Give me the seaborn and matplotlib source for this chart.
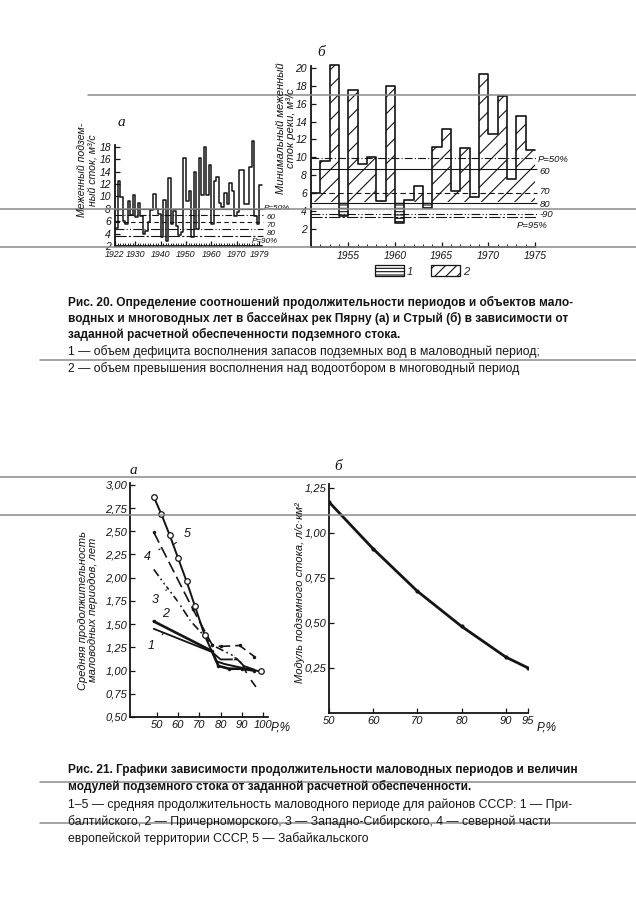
import numpy as np
import matplotlib
matplotlib.use("Agg")
import matplotlib.pyplot as plt
import matplotlib.transforms as mtransforms
from matplotlib.lines import Line2D
from matplotlib.patches import Patch
import seaborn as sns

# ------------------------------------------------------------------ #
# page size in pixels (dpi 100)
# ------------------------------------------------------------------ #
W, H = 636, 900

# ------------------------------------------------------------------ #
# DATA
# ------------------------------------------------------------------ #

# Рис. 20 а -- р. Пирну, меженный подземный сток, м3/с
PIRNU_YEARS = list(range(1922, 1980))
PIRNU_FLOW = [4.9, 12.5, 9.9, 6.0, 5.5, 9.2, 7.0, 10.3, 6.7, 9.0,
              6.8, 3.9, 4.5, 5.8, 7.8, 10.4, 8.0, 7.2, 3.5, 9.5,
              2.8, 13.0, 5.5, 7.7, 5.2, 3.8, 4.3, 16.2, 9.3, 10.8,
              3.5, 14.0, 4.7, 16.2, 10.3, 18.0, 10.3, 15.0, 5.5, 12.5,
              13.2, 9.0, 8.3, 10.5, 8.8, 12.2, 10.8, 6.8, 7.5, 14.3,
              14.3, 8.7, 8.7, 14.8, 19.0, 6.8, 5.5, 11.8]
PIRNU_LEVELS = [8.0, 7.0, 5.9, 4.7, 3.6]
PIRNU_LEVEL_LABELS = ["P=50%", "60", "70", "80", "P=90%"]
PIRNU_TICKS = [1922, 1930, 1940, 1950, 1960, 1970, 1979]

# Рис. 20 б -- р. Стрый, минимальный меженный сток реки, м3/с
STRYI_YEARS = list(range(1951, 1975))
STRYI_FLOW = [6.0, 9.6, 20.3, 3.5, 17.5, 9.3, 10.0, 5.1, 18.0, 2.7,
              5.3, 6.8, 4.4, 11.2, 13.2, 6.2, 11.1, 5.6, 19.3, 12.6,
              16.9, 7.6, 14.6, 10.8]
STRYI_BASE = 5.0
STRYI_LEVELS = [9.9, 8.7, 6.0, 4.95, 3.7, 3.3]
STRYI_LEVEL_LABELS = ["P=50%", "60", "70", "80", "90", "P=95%"]
STRYI_TICKS = [1955, 1960, 1965, 1970, 1975]

# Рис. 21 а -- средняя продолжительность маловодных периодов, лет
S1_P = [48.5, 76, 80, 88, 91, 96]
S1_T = [1.45, 1.20, 1.12, 1.12, 1.05, 1.01]
S2_P = [48.5, 76, 79, 84, 90, 96]
S2_T = [1.53, 1.21, 1.05, 1.02, 1.02, 1.00]
S3_P = [48.5, 54, 60, 66, 76.5, 86, 90, 93, 97.5]
S3_T = [2.09, 1.92, 1.74, 1.53, 1.27, 1.16, 1.08, 0.94, 0.80]
S4_P = [48.5, 67, 76, 80, 89, 96]
S4_T = [2.49, 1.66, 1.28, 1.26, 1.27, 1.15]
S5_P = [48.5, 52, 56, 60, 64, 68, 72.5, 78, 82, 90, 99]
S5_T = [2.87, 2.69, 2.46, 2.21, 1.96, 1.69, 1.38, 1.10, 1.07, 1.03, 0.99]

# Рис. 21 б -- модуль подземного стока, л/(с*км2)
MOD_P = [50, 60, 70, 80, 90, 95]
MOD_Q = [1.17, 0.91, 0.675, 0.48, 0.31, 0.25]

# ------------------------------------------------------------------ #
# STYLE
# ------------------------------------------------------------------ #
sns.set_style("ticks")
plt.rcParams["font.family"] = ["Liberation Sans", "DejaVu Sans"]
plt.rcParams["hatch.linewidth"] = 0.8
INK = "#141414"


def px_rect(x0, y0, x1, y1):
    return [x0 / W, 1 - y1 / H, (x1 - x0) / W, (y1 - y0) / H]


def fig_text(x, y, s, **kw):
    kw.setdefault("color", INK)
    fig.text(x / W, 1 - y / H, s, **kw)


def style_axes(ax, size=8, pad=2):
    sns.despine(ax=ax)
    for s in ("left", "bottom"):
        ax.spines[s].set_linewidth(1.3)
        ax.spines[s].set_color(INK)
    ax.tick_params(which="major", direction="in", length=3.5, width=0.9,
                   labelsize=size, colors=INK, pad=pad)
    ax.tick_params(which="minor", direction="in", length=2.2, width=0.7)
    for lab in ax.get_xticklabels() + ax.get_yticklabels():
        lab.set_style("italic")


def comma(v):
    return f"{v:.2f}".replace(".", ",")


fig = plt.figure(figsize=(W / 100, H / 100), dpi=100)

# ------------------------------------------------------------------ #
# Рис. 20 а
# ------------------------------------------------------------------ #
ax_a = fig.add_axes(px_rect(115, 145, 262, 246))
sns.lineplot(x=PIRNU_YEARS + [PIRNU_YEARS[-1] + 1],
             y=PIRNU_FLOW + [PIRNU_FLOW[-1]],
             drawstyle="steps-post", color=INK, lw=1.1, ax=ax_a, clip_on=False)
ax_a.set_xlim(1922, 1980)
ax_a.set_ylim(2, 18.3)
ax_a.set_yticks(range(2, 19, 2))
ax_a.set_xticks(PIRNU_TICKS)
ax_a.set_xticks(PIRNU_YEARS, minor=True)
ax_a.set_xlabel("")
ax_a.set_ylabel("")
style_axes(ax_a, size=7.5, pad=3)
ax_a.tick_params(axis="x", labelsize=6.4)

a_styles = ["-", (0, (6, 2, 1, 2)), (0, (4, 3)), (0, (8, 2, 1, 2, 1, 2)), (0, (10, 2, 2, 2))]
for lev, ls in zip(PIRNU_LEVELS, a_styles):
    ax_a.hlines(lev, 1922, 1980.5, colors=INK, linestyles=[ls], lw=0.8, clip_on=False)
tr_a = mtransforms.blended_transform_factory(ax_a.transAxes, ax_a.transData)
a_lab_y = [8.1, 6.65, 5.35, 4.05, 2.75]
a_lab_x = [1.01, 1.03, 1.03, 1.03, 0.93]
for lx, ly, lab in zip(a_lab_x, a_lab_y, PIRNU_LEVEL_LABELS):
    ax_a.text(lx, ly, lab, transform=tr_a, fontsize=5.8, style="italic",
              va="center", ha="left", color=INK)

# ------------------------------------------------------------------ #
# Рис. 20 б
# ------------------------------------------------------------------ #
ax_b = fig.add_axes(px_rect(311, 66, 535, 247))
wet_x = [y for y, v in zip(STRYI_YEARS, STRYI_FLOW) if v >= STRYI_BASE]
wet_h = [v - STRYI_BASE for v in STRYI_FLOW if v >= STRYI_BASE]
dry_x = [y for y, v in zip(STRYI_YEARS, STRYI_FLOW) if v < STRYI_BASE]
dry_h = [v - STRYI_BASE for v in STRYI_FLOW if v < STRYI_BASE]
ax_b.bar(wet_x, wet_h, bottom=STRYI_BASE, width=1, align="edge",
         facecolor="none", edgecolor=INK, hatch="//", lw=0, clip_on=False)
ax_b.bar(dry_x, dry_h, bottom=STRYI_BASE, width=1, align="edge",
         facecolor="none", edgecolor=INK, hatch="-----", lw=0)
sns.lineplot(x=STRYI_YEARS + [STRYI_YEARS[-1] + 1],
             y=STRYI_FLOW + [STRYI_FLOW[-1]],
             drawstyle="steps-post", color=INK, lw=1.2, ax=ax_b, clip_on=False)
ax_b.vlines(STRYI_YEARS[0], STRYI_BASE, STRYI_FLOW[0], colors=INK, lw=1.2)
ax_b.set_xlim(STRYI_YEARS[0], STRYI_YEARS[-1] + 1)
ax_b.set_ylim(0, 20.2)
ax_b.set_yticks(range(2, 21, 2))
ax_b.set_xticks(STRYI_TICKS)
ax_b.set_xticks(STRYI_YEARS, minor=True)
ax_b.set_xlabel("")
ax_b.set_ylabel("")
style_axes(ax_b, size=7.5, pad=3)

b_styles = [(0, (7, 2, 1, 2)), "-", (0, (5, 3)), "-", (0, (8, 2, 1, 2, 1, 2)), (0, (10, 2, 2, 2))]
for lev, ls in zip(STRYI_LEVELS, b_styles):
    ax_b.hlines(lev, STRYI_YEARS[0], STRYI_YEARS[-1] + 1.2, colors=INK,
                linestyles=[ls], lw=0.8, clip_on=False)
tr_b = mtransforms.blended_transform_factory(ax_b.transAxes, ax_b.transData)
b_lab_y = [9.8, 8.4, 6.2, 4.75, 3.6, 2.4]
b_lab_x = [1.01, 1.02, 1.02, 1.02, 1.02, 0.92]
for lx, ly, lab in zip(b_lab_x, b_lab_y, STRYI_LEVEL_LABELS):
    ax_b.text(lx, ly, lab if lab != "90" else "-90", transform=tr_b,
              fontsize=6.8, style="italic", va="center", ha="left", color=INK)

handles = [Patch(facecolor="white", edgecolor=INK, hatch="-----", lw=0.9),
           Patch(facecolor="white", edgecolor=INK, hatch="///", lw=0.9)]
fig.legend(handles, ["1", "2"], loc="center", ncol=2,
           bbox_to_anchor=(422 / W, 1 - 271 / H), frameon=False,
           handlelength=2.6, handleheight=1.1, columnspacing=1.6,
           handletextpad=0.3, prop={"size": 8, "style": "italic"})

# ------------------------------------------------------------------ #
# Рис. 21 а
# ------------------------------------------------------------------ #
ax_c = fig.add_axes(px_rect(130, 483, 268, 717))
sns.lineplot(x=S1_P, y=S1_T, color=INK, lw=1.3, sort=False, ax=ax_c)
sns.lineplot(x=S2_P, y=S2_T, color=INK, lw=1.9, sort=False, ax=ax_c,
             marker="o", markersize=2.5, markeredgewidth=0)
sns.lineplot(x=S3_P, y=S3_T, color=INK, lw=1.2, sort=False, ax=ax_c,
             linestyle=(0, (5, 2, 1, 2)),
             marker="+", markersize=6, markeredgewidth=1.0, markevery=[1, 2, 3, 4, 5, 7])
sns.lineplot(x=S4_P, y=S4_T, color=INK, lw=1.2, sort=False, ax=ax_c,
             linestyle=(0, (7, 3)), marker="o", markersize=2.5, markeredgewidth=0)
sns.lineplot(x=S5_P, y=S5_T, color=INK, lw=1.4, sort=False, ax=ax_c,
             marker="o", markersize=4, markerfacecolor="white",
             markeredgecolor=INK, markeredgewidth=0.9,
             markevery=[0, 1, 2, 3, 4, 5, 6, 10])
ax_c.set_xlim(37.3, 102.4)
ax_c.set_ylim(0.5, 3.02)
yt = np.arange(0.5, 3.01, 0.25)
ax_c.set_yticks(yt)
ax_c.set_yticklabels([comma(v) for v in yt])
ax_c.set_xticks(range(50, 101, 10))
ax_c.set_xlabel("")
ax_c.set_ylabel("")
style_axes(ax_c, size=8)

num_labels = [("5", (64.5, 2.47), (58.0, 2.36)),
              ("4", (45.5, 2.22), (51.5, 2.31)),
              ("3", (49.0, 1.76), (54.5, 1.87)),
              ("2", (54.0, 1.61), (51.0, 1.51)),
              ("1", (47.5, 1.26), (53.0, 1.40))]
for s, xy_text, xy_line in num_labels:
    ax_c.annotate(s, xy=xy_line, xytext=xy_text, fontsize=9, style="italic",
                  ha="center", va="center", color=INK,
                  arrowprops=dict(arrowstyle="-", color=INK, lw=0.8,
                                  shrinkA=4, shrinkB=0))

# ------------------------------------------------------------------ #
# Рис. 21 б
# ------------------------------------------------------------------ #
ax_d = fig.add_axes(px_rect(329, 484, 528, 713))
sns.lineplot(x=MOD_P, y=MOD_Q, color=INK, lw=2.0, ax=ax_d,
             marker="o", markersize=3, markeredgewidth=0)
ax_d.set_xlim(50, 95)
ax_d.set_ylim(0, 1.27)
yt = [0.25, 0.5, 0.75, 1.0, 1.25]
ax_d.set_yticks(yt)
ax_d.set_yticklabels([comma(v) for v in yt])
ax_d.set_xticks(MOD_P)
ax_d.set_xlabel("")
ax_d.set_ylabel("")
style_axes(ax_d, size=8)

# ------------------------------------------------------------------ #
# panel letters, axis titles
# ------------------------------------------------------------------ #
letter = dict(fontsize=11, style="italic", family=["Liberation Serif", "DejaVu Serif"],
              ha="center", va="center")
fig_text(121, 122, "а", **letter)
fig_text(321, 53, "б", **letter)
fig_text(133, 471, "а", **letter)
fig_text(338, 467, "б", **letter)

ylab = dict(fontsize=8, style="italic", rotation=90, ha="center", va="center",
            linespacing=1.05)
fig_text(87, 170, "Меженный подзем-\nный сток, м³/с", **dict(ylab, fontsize=7.6))
fig_text(286, 128, "Минимальный меженный\nсток реки, м³/с", **ylab)
fig_text(88, 610, "Средняя продолжительность\nмаловодных периодов, лет", **ylab)
fig_text(300, 593, "Модуль подземного стока, л/с·км²", **ylab)

fig_text(271, 727, "P,%", fontsize=8.5, style="italic", ha="left", va="center")
fig_text(537, 727, "P,%", fontsize=8.5, style="italic", ha="left", va="center")

# ------------------------------------------------------------------ #
# captions
# ------------------------------------------------------------------ #
bold = dict(fontsize=8.6, fontweight="bold", ha="left", va="center")
reg = dict(fontsize=8.8, ha="left", va="center")
fig_text(68, 302, "Рис. 20. Определение соотношений продолжительности периодов и объектов мало-", **bold)
fig_text(68, 318, "водных и многоводных лет в бассейнах рек Пярну (а) и Стрый (б) в зависимости от", **bold)
fig_text(68, 334, "заданной расчетной обеспеченности подземного стока.", **bold)
fig_text(68, 352, "1 — объем дефицита восполнения запасов подземных вод в маловодный период;", **reg)
fig_text(68, 369, "2 — объем превышения восполнения над водоотбором в многоводный период", **reg)

fig_text(68, 770, "Рис. 21. Графики зависимости продолжительности маловодных периодов и величин", **bold)
fig_text(68, 786, "модулей подземного стока от заданной расчетной обеспеченности.", **bold)
fig_text(68, 805, "1–5 — средняя продолжительность маловодного периоде для районов СССР: 1 — При-", **reg)
fig_text(68, 822, "балтийского, 2 — Причерноморского, 3 — Западно-Сибирского, 4 — северной части", **reg)
fig_text(68, 839, "европейской территории СССР, 5 — Забайкальского", **reg)

# ------------------------------------------------------------------ #
# grey scan lines across the page
# ------------------------------------------------------------------ #
SCAN_LINES = [(88, 95), (0, 209), (0, 247), (40, 360), (0, 477), (0, 515), (40, 782), (40, 823)]
for x0, y in SCAN_LINES:
    fig.add_artist(Line2D([x0 / W, 1], [1 - y / H, 1 - y / H],
                          transform=fig.transFigure, color="#8a8a8a", lw=1.1))

fig.savefig("out.png", dpi=100, facecolor="white")
